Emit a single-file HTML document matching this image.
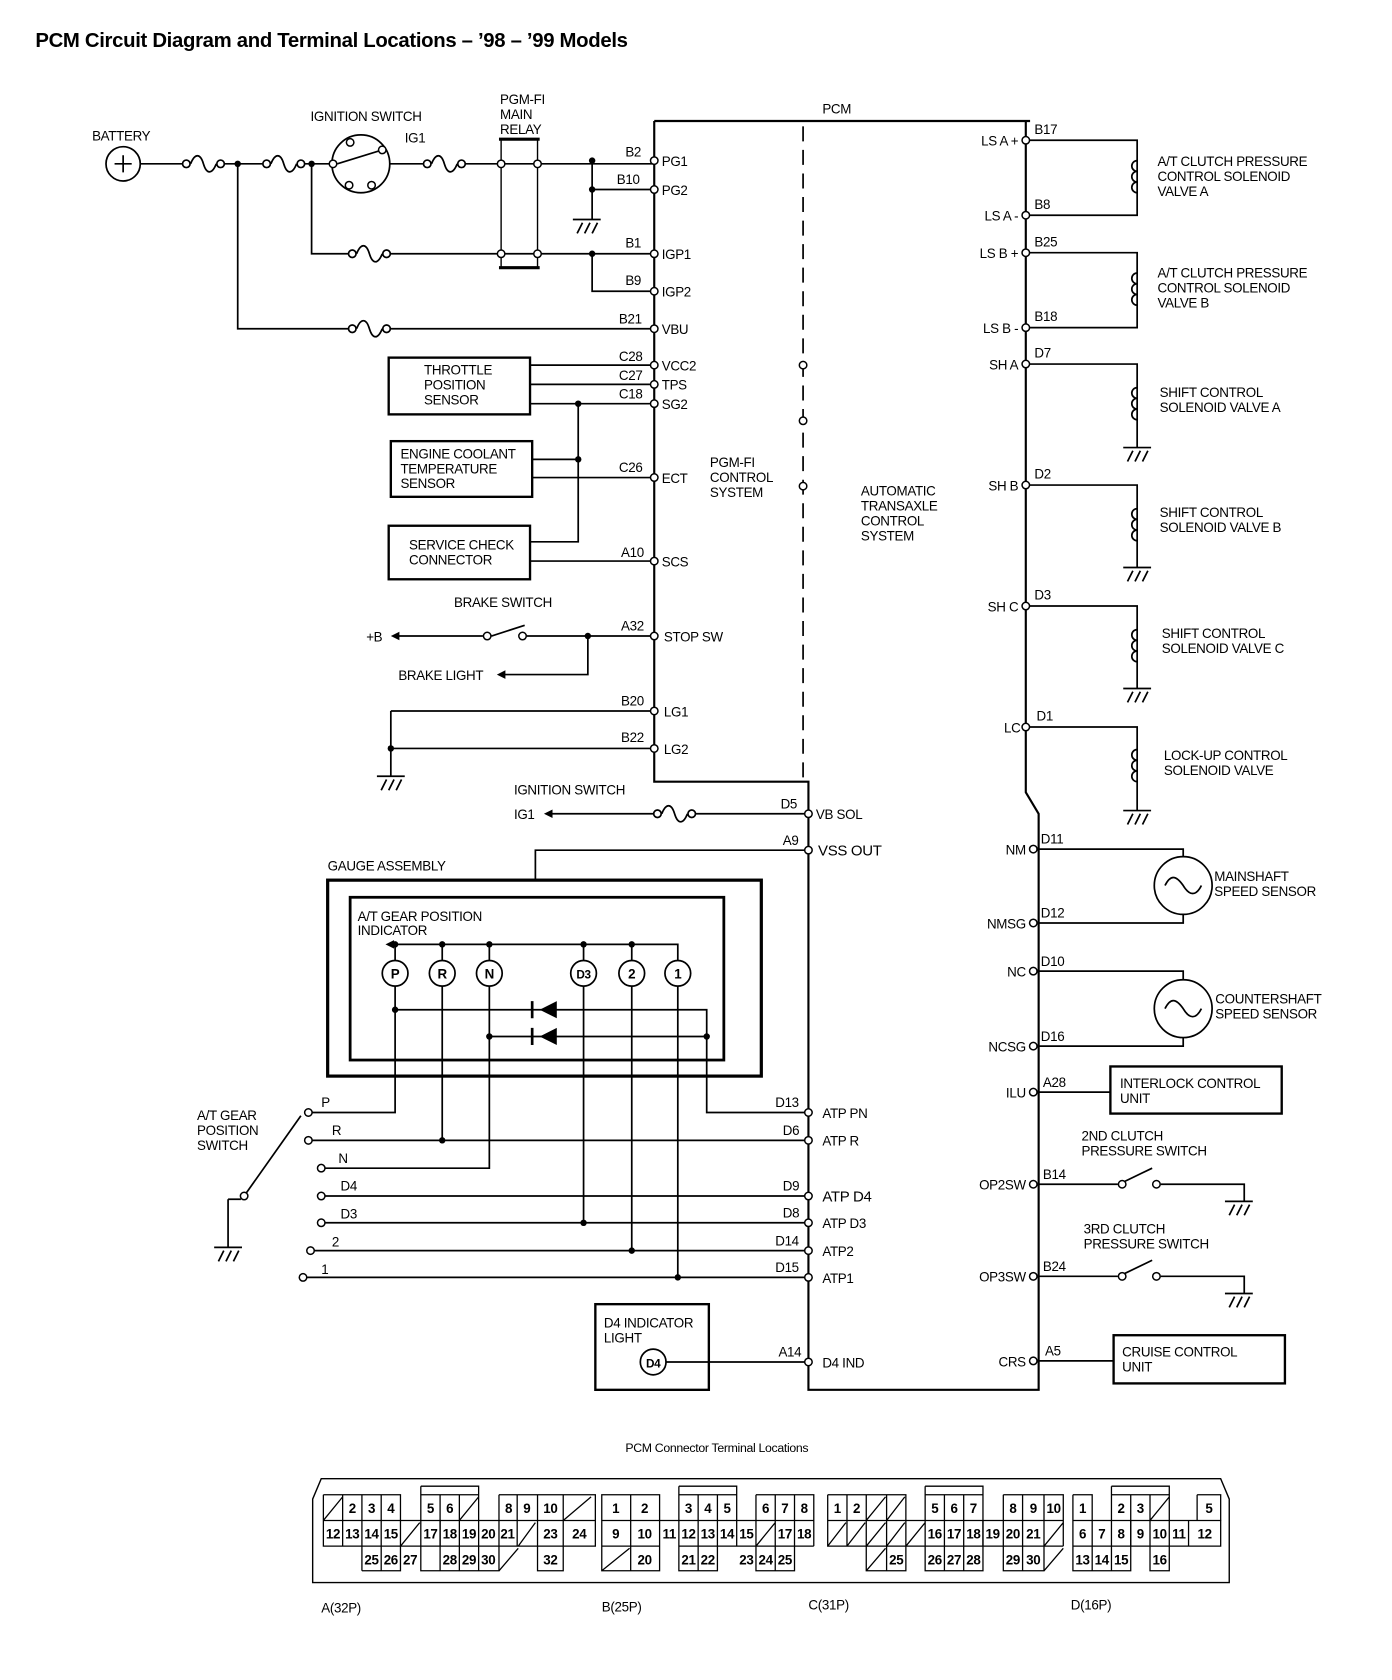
<!DOCTYPE html>
<html><head><meta charset="utf-8"><style>
html,body{margin:0;padding:0;background:#fff}
svg{display:block}
text{font-family:"Liberation Sans Narrow","Liberation Sans",sans-serif;font-size:12.5px;fill:#000;letter-spacing:-0.3px}
.b{font-weight:bold}
</style></head><body>
<svg width="1392" height="1680" viewBox="0 0 1300 1569" preserveAspectRatio="none" xmlns="http://www.w3.org/2000/svg">
<defs>
<g id="fuse" fill="#fff" stroke="#000" stroke-width="1.6"><circle cx="4" cy="0" r="3.5"/><path d="M8,0 c4,-10 9,-10 12,0 c3,10 8,10 12,0" fill="none"/><circle cx="36" cy="0" r="3.5"/></g>
<g id="gnd" stroke="#000" stroke-width="1.6" fill="none"><path d="M-13,0 H13 M-9,13 L-4,3 M-2,13 L3,3 M5,13 L10,3"/></g>
<g id="coil" stroke="#000" stroke-width="1.6" fill="none"><path d="M0,0 a5,5 0 0 0 0,10 a5,5 0 0 0 0,10 a5,5 0 0 0 0,10"/></g>
<circle id="t" r="3.5" fill="#fff" stroke="#000" stroke-width="1.4"/>
<circle id="d" r="3" fill="#000"/>
</defs>
<text x="33" y="44" class="b" style="font-family:'Liberation Sans',sans-serif;font-size:19px">PCM Circuit Diagram and Terminal Locations – ’98 – ’99 Models</text>

<g stroke="#000" stroke-width="1.6" fill="none">
<path d="M611,113 H962 M611,113 V730 H755 V1298 H970 V760 L958,740 V113" stroke-width="2"/>
<path d="M750,118 V730" stroke-dasharray="14,8"/>
<circle cx="115" cy="153" r="16"/>
<path d="M131,153 H170 M206,153 H245 M281,153 H311 M364,153 H395 M431,153 H611 M291,153 V237 H325 M361,237 H611 M222,153 V307 H325 M361,307 H611"/>
<path d="M553,150 V205 M553,177 H611 M553,237 V272 H611"/>
<circle cx="337" cy="153" r="27"/>
<path d="M315,153 L357,140"/>
<path d="M468,130 V250 M502,130 V250" stroke-width="1.3"/>
<path d="M466,130 H504 M466,250 H504" stroke-width="3"/>
<rect x="363" y="334" width="132" height="53" stroke-width="2.2"/>
<rect x="365" y="412" width="132" height="52" stroke-width="2.2"/>
<rect x="363" y="491" width="132" height="50" stroke-width="2.2"/>
<path d="M495,341 H611 M495,359 H611 M495,377 H611 M540,377 V506 H495 M497,429 H540 M497,446 H611 M495,524 H611"/>
<path d="M372,594 H451 M492,594 H611 M549,594 V630 H468 M459,594 L490,584"/>
<path d="M365,664 H611 M365,699 H611 M365,664 V725"/>
<path d="M515,760 H610 M650,760 H755 M500,822 V794 H755"/>
<rect x="306" y="822" width="405" height="183" stroke-width="3"/>
<rect x="327" y="838" width="349" height="152" stroke-width="2.6"/>
<path d="M370,882 H633 V897 M369,882 V897 M413,882 V897 M457,882 V897 M545,882 V897 M590,882 V897"/>
<path d="M369,921 V1039 H288 M413,921 V1065 M457,921 V1091 H300 M545,921 V1142 M590,921 V1168 M633,921 V1193"/>
<path d="M369,943 H660 V1039 H755 M457,968 H660"/>
<path d="M288,1065 H755 M300,1117 H755 M300,1142 H755 M290,1168 H755 M283,1193 H755"/>
<path d="M228,1117 L281,1042 M213,1120 V1165 M213,1120 H225"/>
<circle cx="369" cy="909" r="12"/><circle cx="413" cy="909" r="12"/><circle cx="457" cy="909" r="12"/><circle cx="545" cy="909" r="12"/><circle cx="590" cy="909" r="12"/><circle cx="633" cy="909" r="12"/>
<rect x="556" y="1218" width="106" height="80" stroke-width="2.2"/>
<circle cx="610" cy="1272" r="12"/>
<path d="M622,1272 H755"/>
<path d="M958,131 H1062 V201 H958 M958,236 H1062 V306 H958"/>
<path d="M958,340 H1062 V418 M958,453 H1062 V530 M958,566 H1062 V643 M958,679 H1062 V757"/>
<path d="M965,793 H1105 V800 M965,862 H1105 V854 M965,907 H1105 V915 M965,977 H1105 V969"/>
<circle cx="1105" cy="827" r="27"/><circle cx="1105" cy="942" r="27"/>
<path d="M1088,827 c5,-10 10,-10 17,0 c6,10 12,10 17,0 M1088,942 c5,-10 10,-10 17,0 c6,10 12,10 17,0"/>
<rect x="1037" y="996" width="160" height="44" stroke-width="2.2"/>
<rect x="1040" y="1247" width="160" height="45" stroke-width="2.2"/>
<path d="M965,1020 H1037 M965,1271 H1040"/>
<path d="M965,1106 H1044 M1049,1104 L1076,1091 M1084,1106 H1162 V1122 M965,1192 H1044 M1049,1190 L1076,1177 M1084,1192 H1162 V1208"/>
</g>
<g fill="#000"><path d="M520,935 L504,943 L520,951 Z M520,960 L504,968 L520,976 Z"/><path d="M360,882 l8,-4 v8z M365,594 l8,-4 v8z M464,630 l8,-4 v8z M508,760 l8,-4 v8z"/></g>
<path d="M497,935 V951 M497,960 V976" stroke="#000" stroke-width="2.5"/>
<g>
<use href="#fuse" x="170" y="153"/><use href="#fuse" x="245" y="153"/><use href="#fuse" x="395" y="153"/>
<use href="#fuse" x="325" y="237"/><use href="#fuse" x="325" y="307"/><use href="#fuse" x="610" y="760"/>
<use href="#gnd" x="548" y="205"/><use href="#gnd" x="365" y="725"/><use href="#gnd" x="213" y="1165"/>
<use href="#gnd" x="1062" y="418"/><use href="#gnd" x="1062" y="530"/><use href="#gnd" x="1062" y="643"/><use href="#gnd" x="1062" y="757"/>
<use href="#gnd" x="1157" y="1122"/><use href="#gnd" x="1157" y="1208"/>
<use href="#coil" x="1062" y="150"/><use href="#coil" x="1062" y="255"/><use href="#coil" x="1062" y="362"/><use href="#coil" x="1062" y="475"/><use href="#coil" x="1062" y="588"/><use href="#coil" x="1062" y="700"/>
</g>
<path d="M107,153 H123 M115,145 V161" stroke="#000" stroke-width="1.6"/>
<g>
<use href="#t" x="311" y="153"/><use href="#t" x="357" y="140"/><use href="#t" x="327" y="133"/><use href="#t" x="326" y="173"/><use href="#t" x="347" y="173"/>
<use href="#t" x="468" y="153"/><use href="#t" x="502" y="153"/><use href="#t" x="468" y="237"/><use href="#t" x="502" y="237"/>
<use href="#t" x="455" y="594"/><use href="#t" x="488" y="594"/>
<use href="#t" x="611" y="150"/><use href="#t" x="611" y="177"/><use href="#t" x="611" y="237"/><use href="#t" x="611" y="272"/><use href="#t" x="611" y="307"/><use href="#t" x="611" y="341"/><use href="#t" x="611" y="359"/><use href="#t" x="611" y="377"/><use href="#t" x="611" y="446"/><use href="#t" x="611" y="524"/><use href="#t" x="611" y="594"/><use href="#t" x="611" y="664"/><use href="#t" x="611" y="699"/>
<use href="#t" x="750" y="341"/><use href="#t" x="750" y="393"/><use href="#t" x="750" y="454"/>
<use href="#t" x="755" y="760"/><use href="#t" x="755" y="794"/><use href="#t" x="755" y="1039"/><use href="#t" x="755" y="1065"/><use href="#t" x="755" y="1117"/><use href="#t" x="755" y="1142"/><use href="#t" x="755" y="1168"/><use href="#t" x="755" y="1193"/><use href="#t" x="755" y="1272"/>
<use href="#t" x="288" y="1039"/><use href="#t" x="288" y="1065"/><use href="#t" x="300" y="1091"/><use href="#t" x="300" y="1117"/><use href="#t" x="300" y="1142"/><use href="#t" x="290" y="1168"/><use href="#t" x="283" y="1193"/><use href="#t" x="228" y="1117"/>
<use href="#t" x="958" y="131"/><use href="#t" x="958" y="201"/><use href="#t" x="958" y="236"/><use href="#t" x="958" y="306"/><use href="#t" x="958" y="340"/><use href="#t" x="958" y="453"/><use href="#t" x="958" y="566"/><use href="#t" x="958" y="679"/><use href="#t" x="965" y="793"/><use href="#t" x="965" y="862"/><use href="#t" x="965" y="907"/><use href="#t" x="965" y="977"/><use href="#t" x="965" y="1020"/><use href="#t" x="965" y="1106"/><use href="#t" x="965" y="1192"/><use href="#t" x="965" y="1271"/>
<use href="#t" x="1048" y="1106"/><use href="#t" x="1080" y="1106"/><use href="#t" x="1048" y="1192"/><use href="#t" x="1080" y="1192"/>
</g>
<g>
<use href="#d" x="222" y="153"/><use href="#d" x="291" y="153"/><use href="#d" x="553" y="150"/><use href="#d" x="553" y="177"/><use href="#d" x="553" y="237"/>
<use href="#d" x="540" y="377"/><use href="#d" x="540" y="429"/><use href="#d" x="549" y="594"/><use href="#d" x="365" y="699"/>
<use href="#d" x="369" y="882"/><use href="#d" x="413" y="882"/><use href="#d" x="457" y="882"/><use href="#d" x="545" y="882"/><use href="#d" x="590" y="882"/>
<use href="#d" x="369" y="943"/><use href="#d" x="457" y="968"/><use href="#d" x="660" y="968"/>
<use href="#d" x="413" y="1065"/><use href="#d" x="545" y="1142"/><use href="#d" x="590" y="1168"/><use href="#d" x="633" y="1193"/>
</g>
<g>
<text x="86" y="131">BATTERY</text>
<text x="290" y="113">IGNITION SWITCH</text><text x="378" y="133">IG1</text>
<text x="467" y="97">PGM-FI</text><text x="467" y="111">MAIN</text><text x="467" y="125">RELAY</text>
<text x="768" y="106">PCM</text>
<text x="584" y="146">B2</text><text x="576" y="172">B10</text><text x="584" y="231">B1</text><text x="584" y="266">B9</text><text x="578" y="302">B21</text>
<text x="578" y="337">C28</text><text x="578" y="355">C27</text><text x="578" y="372">C18</text><text x="578" y="441">C26</text><text x="580" y="520">A10</text><text x="580" y="589">A32</text><text x="580" y="659">B20</text><text x="580" y="693">B22</text>
<text x="618" y="155">PG1</text><text x="618" y="182">PG2</text><text x="618" y="242">IGP1</text><text x="618" y="277">IGP2</text><text x="618" y="312">VBU</text><text x="618" y="346">VCC2</text><text x="618" y="364">TPS</text><text x="618" y="382">SG2</text><text x="618" y="451">ECT</text><text x="618" y="529">SCS</text><text x="620" y="599">STOP SW</text><text x="620" y="669">LG1</text><text x="620" y="704">LG2</text>
<text x="396" y="350">THROTTLE</text><text x="396" y="364">POSITION</text><text x="396" y="378">SENSOR</text>
<text x="374" y="428">ENGINE COOLANT</text><text x="374" y="442">TEMPERATURE</text><text x="374" y="456">SENSOR</text>
<text x="382" y="513">SERVICE CHECK</text><text x="382" y="527">CONNECTOR</text>
<text x="424" y="567">BRAKE SWITCH</text><text x="342" y="599">+B</text><text x="372" y="635">BRAKE LIGHT</text>
<text x="663" y="436">PGM-FI</text><text x="663" y="450">CONTROL</text><text x="663" y="464">SYSTEM</text>
<text x="804" y="463">AUTOMATIC</text><text x="804" y="477">TRANSAXLE</text><text x="804" y="491">CONTROL</text><text x="804" y="505">SYSTEM</text>
<text x="480" y="742">IGNITION SWITCH</text><text x="480" y="765">IG1</text>
<text x="729" y="755">D5</text><text x="762" y="765">VB SOL</text><text x="731" y="789">A9</text><text x="764" y="799" style="font-size:14px">VSS OUT</text>
<text x="306" y="813">GAUGE ASSEMBLY</text>
<text x="334" y="860">A/T GEAR POSITION</text><text x="334" y="873">INDICATOR</text>
<text x="564" y="1240">D4 INDICATOR</text><text x="564" y="1254">LIGHT</text>
<g class="b" text-anchor="middle"><text x="369" y="914">P</text><text x="413" y="914">R</text><text x="457" y="914">N</text><text x="545" y="914" style="font-size:11px">D3</text><text x="590" y="914">2</text><text x="633" y="914">1</text><text x="610" y="1277" style="font-size:11px">D4</text></g>
<text x="184" y="1046">A/T GEAR</text><text x="184" y="1060">POSITION</text><text x="184" y="1074">SWITCH</text>
<text x="300" y="1034">P</text><text x="310" y="1060">R</text><text x="316" y="1086">N</text><text x="318" y="1112">D4</text><text x="318" y="1138">D3</text><text x="310" y="1164">2</text><text x="300" y="1190">1</text>
<text x="724" y="1034">D13</text><text x="731" y="1060">D6</text><text x="731" y="1112">D9</text><text x="731" y="1137">D8</text><text x="724" y="1163">D14</text><text x="724" y="1188">D15</text><text x="727" y="1267">A14</text>
<text x="768" y="1044">ATP PN</text><text x="768" y="1070">ATP R</text><text x="768" y="1122" style="font-size:14px">ATP D4</text><text x="768" y="1147">ATP D3</text><text x="768" y="1173">ATP2</text><text x="768" y="1198">ATP1</text><text x="768" y="1277">D4 IND</text>
<g text-anchor="end"><text x="951" y="136">LS A +</text><text x="951" y="206">LS A -</text><text x="951" y="241">LS B +</text><text x="951" y="311">LS B -</text><text x="951" y="345">SH A</text><text x="951" y="458">SH B</text><text x="951" y="571">SH C</text><text x="953" y="684">LC</text><text x="958" y="798">NM</text><text x="958" y="867">NMSG</text><text x="958" y="912">NC</text><text x="958" y="982">NCSG</text><text x="958" y="1025">ILU</text><text x="958" y="1111">OP2SW</text><text x="958" y="1197">OP3SW</text><text x="958" y="1276">CRS</text></g>
<text x="966" y="125">B17</text><text x="966" y="195">B8</text><text x="966" y="230">B25</text><text x="966" y="300">B18</text><text x="966" y="334">D7</text><text x="966" y="447">D2</text><text x="966" y="560">D3</text><text x="968" y="673">D1</text><text x="972" y="788">D11</text><text x="972" y="857">D12</text><text x="972" y="902">D10</text><text x="972" y="972">D16</text><text x="974" y="1015">A28</text><text x="974" y="1101">B14</text><text x="974" y="1187">B24</text><text x="976" y="1266">A5</text>
<text x="1081" y="155">A/T CLUTCH PRESSURE</text><text x="1081" y="169">CONTROL SOLENOID</text><text x="1081" y="183">VALVE A</text>
<text x="1081" y="259">A/T CLUTCH PRESSURE</text><text x="1081" y="273">CONTROL SOLENOID</text><text x="1081" y="287">VALVE B</text>
<text x="1083" y="371">SHIFT CONTROL</text><text x="1083" y="385">SOLENOID VALVE A</text>
<text x="1083" y="483">SHIFT CONTROL</text><text x="1083" y="497">SOLENOID VALVE B</text>
<text x="1085" y="596">SHIFT CONTROL</text><text x="1085" y="610">SOLENOID VALVE C</text>
<text x="1087" y="710">LOCK-UP CONTROL</text><text x="1087" y="724">SOLENOID VALVE</text>
<text x="1134" y="823">MAINSHAFT</text><text x="1134" y="837">SPEED SENSOR</text>
<text x="1135" y="937">COUNTERSHAFT</text><text x="1135" y="951">SPEED SENSOR</text>
<text x="1046" y="1016">INTERLOCK CONTROL</text><text x="1046" y="1030">UNIT</text>
<text x="1010" y="1065">2ND CLUTCH</text><text x="1010" y="1079">PRESSURE SWITCH</text>
<text x="1012" y="1152">3RD CLUTCH</text><text x="1012" y="1166">PRESSURE SWITCH</text>
<text x="1048" y="1267">CRUISE CONTROL</text><text x="1048" y="1281">UNIT</text>
<text x="584" y="1356" style="font-size:11.5px">PCM Connector Terminal Locations</text>
<text x="300" y="1506">A(32P)</text><text x="562" y="1505">B(25P)</text><text x="755" y="1503">C(31P)</text><text x="1000" y="1503">D(16P)</text>
</g>
<g stroke="#000" stroke-width="1.3" fill="none">
<path d="M292,1478 V1400 L300,1381 H1140 L1148,1400 V1478 Z"/>
</g>
<g stroke="#000" stroke-width="1.2" fill="none">
<path d="M302,1396 H374 V1467 H338 M302,1396 V1444 H556 V1420 H302 M320,1396 V1444 M338,1396 V1467 M356,1396 V1467 M374,1420 V1444 M302,1420 L320,1398"/>
<path d="M393,1388 H447 V1396 M393,1388 V1396 M393,1396 H447 V1420 M393,1396 V1467 H466 V1444 M411,1396 V1467 M429,1396 V1420 M429,1444 V1467 M447,1444 V1467 M429,1420 L447,1398 M374,1444 L392,1422"/>
<path d="M411,1420 V1444 M429,1420 V1444 M447,1420 V1444 M466,1420 V1444 M466,1396 H556 V1420 M466,1396 V1420 M483,1396 V1444 M502,1396 V1467 H526 V1444 M526,1396 V1444 M466,1467 L484,1446 M484,1444 L500,1422 M526,1420 L552,1398"/>
<path d="M562,1396 H616 V1467 H562 Z M562,1420 H760 M562,1444 H616 M589,1396 V1467 M562,1467 L588,1446 M616,1420 V1444"/>
<path d="M634,1388 H688 V1396 M634,1388 V1396 M634,1396 H688 V1420 M634,1396 V1467 H670 V1444 M652,1396 V1467 M670,1396 V1420 M688,1396 V1444 M634,1444 H760 M670,1420 V1444"/>
<path d="M706,1396 H760 V1444 M706,1396 V1467 H742 V1420 M724,1396 V1467 M742,1396 V1444 M706,1420 V1444 M706,1444 L724,1422"/>
<path d="M773,1396 H846 V1467 H809 V1444 M773,1396 V1444 H993 M773,1420 H993 M791,1396 V1444 M809,1396 V1467 M828,1396 V1467 M846,1420 V1444 M809,1420 L827,1398 M828,1420 L845,1398 M773,1444 L790,1422 M791,1444 L808,1422 M809,1444 L827,1422 M828,1444 L845,1422 M846,1444 L864,1422 M809,1467 L827,1446"/>
<path d="M864,1388 H918 V1396 M864,1388 V1396 M864,1396 H918 V1420 M864,1396 V1467 H918 V1420 M882,1396 V1467 M900,1396 V1467"/>
<path d="M937,1396 H993 V1444 M937,1396 V1467 H975 V1444 M955,1396 V1467 M975,1396 V1444 M918,1420 V1444 M937,1420 V1444 M975,1444 L993,1422 M975,1467 L993,1446"/>
<path d="M1002,1396 H1020 V1420 M1002,1396 V1467 H1056 V1420 M1002,1420 H1140 V1444 H1002 M1020,1420 V1467 M1038,1420 V1467"/>
<path d="M1038,1388 H1092 V1396 M1038,1388 V1396 M1038,1396 H1092 V1420 M1038,1396 V1420 M1056,1396 V1444 M1074,1396 V1467 H1092 V1420 M1092,1396 V1444 M1110,1420 V1444 M1074,1420 L1092,1398 M1118,1396 H1140 V1420 M1118,1396 V1420"/>
</g>
<g class="b" text-anchor="middle" style="font-size:11.5px">
<text x="329" y="1413">2</text><text x="347" y="1413">3</text><text x="365" y="1413">4</text><text x="402" y="1413">5</text><text x="420" y="1413">6</text><text x="475" y="1413">8</text><text x="492" y="1413">9</text><text x="514" y="1413">10</text>
<text x="311" y="1437">12</text><text x="329" y="1437">13</text><text x="347" y="1437">14</text><text x="365" y="1437">15</text><text x="402" y="1437">17</text><text x="420" y="1437">18</text><text x="438" y="1437">19</text><text x="456" y="1437">20</text><text x="474" y="1437">21</text><text x="514" y="1437">23</text><text x="541" y="1437">24</text>
<text x="347" y="1461">25</text><text x="365" y="1461">26</text><text x="383" y="1461">27</text><text x="420" y="1461">28</text><text x="438" y="1461">29</text><text x="456" y="1461">30</text><text x="514" y="1461">32</text>
<text x="575" y="1413">1</text><text x="602" y="1413">2</text><text x="643" y="1413">3</text><text x="661" y="1413">4</text><text x="679" y="1413">5</text><text x="715" y="1413">6</text><text x="733" y="1413">7</text><text x="751" y="1413">8</text>
<text x="575" y="1437">9</text><text x="602" y="1437">10</text><text x="625" y="1437">11</text><text x="643" y="1437">12</text><text x="661" y="1437">13</text><text x="679" y="1437">14</text><text x="697" y="1437">15</text><text x="733" y="1437">17</text><text x="751" y="1437">18</text>
<text x="602" y="1461">20</text><text x="643" y="1461">21</text><text x="661" y="1461">22</text><text x="697" y="1461">23</text><text x="715" y="1461">24</text><text x="733" y="1461">25</text>
<text x="782" y="1413">1</text><text x="800" y="1413">2</text><text x="873" y="1413">5</text><text x="891" y="1413">6</text><text x="909" y="1413">7</text><text x="946" y="1413">8</text><text x="965" y="1413">9</text><text x="984" y="1413">10</text>
<text x="873" y="1437">16</text><text x="891" y="1437">17</text><text x="909" y="1437">18</text><text x="927" y="1437">19</text><text x="946" y="1437">20</text><text x="965" y="1437">21</text>
<text x="837" y="1461">25</text><text x="873" y="1461">26</text><text x="891" y="1461">27</text><text x="909" y="1461">28</text><text x="946" y="1461">29</text><text x="965" y="1461">30</text>
<text x="1011" y="1413">1</text><text x="1047" y="1413">2</text><text x="1065" y="1413">3</text><text x="1129" y="1413">5</text>
<text x="1011" y="1437">6</text><text x="1029" y="1437">7</text><text x="1047" y="1437">8</text><text x="1065" y="1437">9</text><text x="1083" y="1437">10</text><text x="1101" y="1437">11</text><text x="1125" y="1437">12</text>
<text x="1011" y="1461">13</text><text x="1029" y="1461">14</text><text x="1047" y="1461">15</text><text x="1083" y="1461">16</text>
</g>
</svg>
</body></html>
